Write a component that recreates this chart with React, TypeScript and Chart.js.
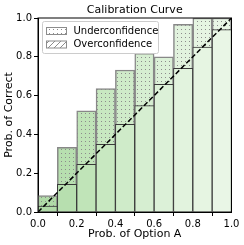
import React, { useEffect, useRef } from "react";
import { Chart, registerables } from "chart.js";
Chart.register(...registerables);

const binCenters = [0.05, 0.15, 0.25, 0.35, 0.45, 0.55, 0.65, 0.75, 0.85, 0.95];
const meanConfidence = [0.03, 0.143, 0.246, 0.349, 0.452, 0.548, 0.658, 0.741, 0.85, 0.94];
const accuracy = [0.085, 0.333, 0.521, 0.636, 0.732, 0.818, 0.8, 0.968, 1.0, 1.0];
const binColors = ["#b0daa7", "#b7dfaf", "#c0e4b8", "#c8e8c1", "#cfebc9", "#d6eed1", "#dcf1d8", "#e2f3de", "#e6f5e2", "#e9f6e6"];
const xTicks = [0, 0.2, 0.4, 0.6, 0.8, 1.0];
const legendLabels = ["Underconfidence", "Overconfidence"];
const titleText = "Calibration Curve";
const xLabel = "Prob. of Option A";
const yLabel = "Prob. of Correct";

const FONT = "'DejaVu Sans', sans-serif";

function dotPattern(bg: string) {
  const c = document.createElement("canvas");
  c.width = 4;
  c.height = 4;
  const g = c.getContext("2d")!;
  g.fillStyle = bg;
  g.fillRect(0, 0, 4, 4);
  g.fillStyle = "#8c8c8c";
  g.fillRect(1, 1, 1, 1);
  return g.createPattern(c, "repeat")!;
}

function hatchPattern(bg: string) {
  const c = document.createElement("canvas");
  c.width = 6;
  c.height = 6;
  const g = c.getContext("2d")!;
  g.fillStyle = bg;
  g.fillRect(0, 0, 6, 6);
  g.strokeStyle = "#8c8c8c";
  g.lineWidth = 1;
  g.beginPath();
  g.moveTo(0, 6);
  g.lineTo(6, 0);
  g.moveTo(-3, 3);
  g.lineTo(3, -3);
  g.moveTo(3, 9);
  g.lineTo(9, 3);
  g.stroke();
  return g.createPattern(c, "repeat")!;
}

export default function App() {
  const ref = useRef<HTMLCanvasElement>(null);
  useEffect(() => {
    const canvas = ref.current!;
    const upperPatterns = binColors.map((c) => dotPattern(c));

    const framePlugin = {
      id: "frameLegend",
      afterDatasetsDraw(chart: any) {
        const { ctx, chartArea: a } = chart;
        ctx.save();
        // frame
        ctx.strokeStyle = "#000";
        ctx.lineWidth = 1;
        ctx.strokeRect(a.left, a.top, a.right - a.left, a.bottom - a.top);
        // title centred on the plot area
        ctx.fillStyle = "#000";
        ctx.font = `11px ${FONT}`;
        ctx.textAlign = "center";
        ctx.textBaseline = "middle";
        ctx.fillText(titleText, (a.left + a.right) / 2, a.top - 8);
        // legend
        const lx = a.left + 4.5, ly = a.top + 3.5, lw = 116, lh = 32;
        ctx.fillStyle = "rgba(255,255,255,0.8)";
        ctx.strokeStyle = "#cccccc";
        ctx.beginPath();
        ctx.roundRect(lx, ly, lw, lh, 2);
        ctx.fill();
        ctx.stroke();
        const pats = [dotPattern("#ffffff"), hatchPattern("#ffffff")];
        legendLabels.forEach((lab, i) => {
          const cy = ly + 9.5 + i * 13.5;
          ctx.fillStyle = pats[i];
          ctx.fillRect(lx + 4, cy - 3.5, 20, 7);
          ctx.strokeStyle = "#8c8c8c";
          ctx.lineWidth = 1;
          ctx.strokeRect(lx + 4, cy - 3.5, 20, 7);
          ctx.fillStyle = "#000";
          ctx.font = `10px ${FONT}`;
          ctx.textBaseline = "middle";
          ctx.textAlign = "left";
          ctx.fillText(lab, lx + 31, cy);
        });
        ctx.restore();
      },
    };

    const chart = new Chart(canvas, {
      type: "bar",
      data: {
        datasets: [
          {
            type: "line",
            data: [{ x: 0, y: 0 }, { x: 1, y: 1 }],
            borderColor: "#000",
            borderWidth: 1.5,
            borderDash: [5, 2.5],
            pointRadius: 0,
            order: 0,
          } as any,
          {
            data: binCenters.map((x, i) => ({ x, y: meanConfidence[i] })),
            backgroundColor: binColors,
            borderColor: "#3a3a3a",
            borderWidth: 1,
            grouped: false,
            categoryPercentage: 1,
            barPercentage: 1,
            order: 1,
          },
          {
            data: binCenters.map((x, i) => ({ x, y: accuracy[i] })),
            backgroundColor: upperPatterns as any,
            borderColor: "#888888",
            borderWidth: 1.5,
            grouped: false,
            categoryPercentage: 1,
            barPercentage: 1,
            order: 2,
          },
        ],
      },
      options: {
        animation: false,
        responsive: true,
        maintainAspectRatio: false,
        layout: { padding: { left: 0, right: 12.5, top: 18, bottom: 0 } },
        plugins: {
          legend: { display: false },
          tooltip: { enabled: false },
          title: { display: false },
        },
        scales: {
          x: {
            type: "linear",
            min: 0,
            max: 1,
            offset: false,
            afterBuildTicks: (s: any) => {
              s.ticks = xTicks.map((v) => ({ value: v }));
            },
            afterFit: (s: any) => {
              s.height = 33;
            },
            ticks: {
              color: "#000",
              font: { family: FONT, size: 10 },
              padding: 2,
              maxRotation: 0,
              autoSkip: false,
              callback: (v: any) => Number(v).toFixed(1),
            },
            grid: { drawOnChartArea: false, drawTicks: true, tickLength: 4, color: "#000" },
            border: { display: true, color: "#000", width: 1 },
            title: {
              display: true,
              text: xLabel,
              color: "#000",
              font: { family: FONT, size: 11 },
              padding: { top: 0, bottom: 4 },
            },
          },
          y: {
            min: 0,
            max: 1,
            afterBuildTicks: (s: any) => {
              s.ticks = xTicks.map((v) => ({ value: v }));
            },
            afterFit: (s: any) => {
              s.width = 38;
            },
            ticks: {
              color: "#000",
              font: { family: FONT, size: 10 },
              padding: 2,
              autoSkip: false,
              callback: (v: any) => Number(v).toFixed(1),
            },
            grid: { drawOnChartArea: false, drawTicks: true, tickLength: 4, color: "#000" },
            border: { display: true, color: "#000", width: 1 },
            title: {
              display: true,
              text: yLabel,
              color: "#000",
              font: { family: FONT, size: 11 },
              padding: { top: 3, bottom: 0 },
            },
          },
        },
      },
      plugins: [framePlugin],
    });
    return () => chart.destroy();
  }, []);
  return (
    <div style={{ position: "fixed", left: 0, top: 0, width: 244, height: 245, background: "#fff" }}>
      <canvas ref={ref} />
    </div>
  );
}
